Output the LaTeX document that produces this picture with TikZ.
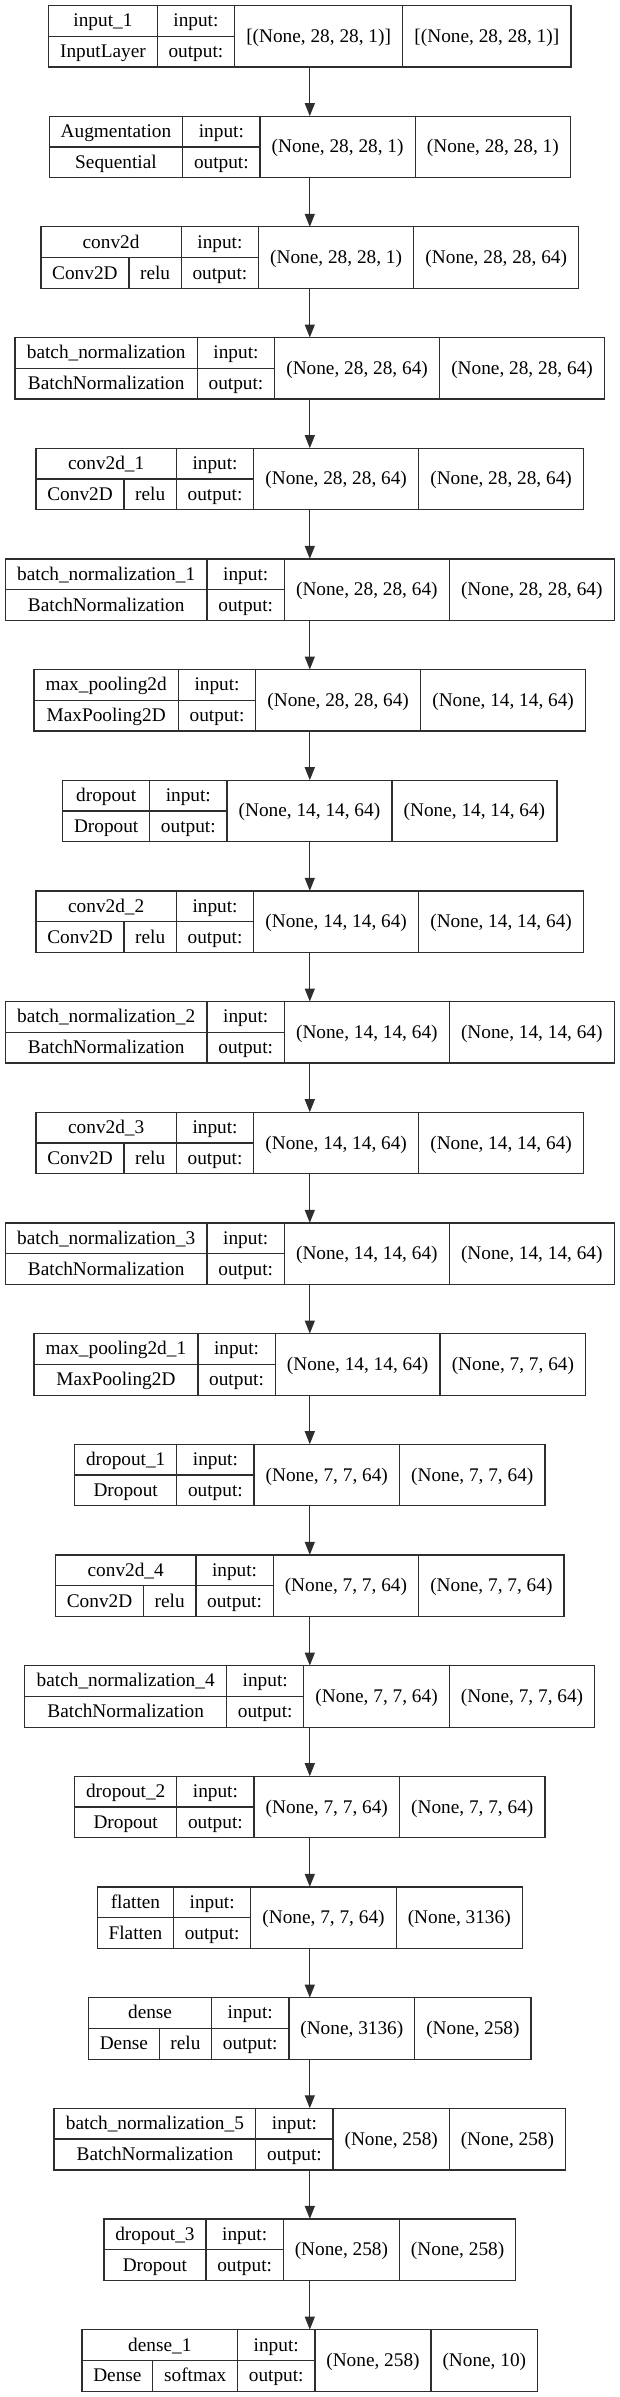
\documentclass[tikz,border=0pt]{standalone}
\usepackage{fontspec}
\setmainfont{Liberation Serif}
\usetikzlibrary{arrows.meta}
\newlength\wN \newlength\wC \newlength\wA \newlength\wL \newlength\wI \newlength\wO \newlength\wT \newlength\wX
\newcommand\measfont{\fontsize{19.5pt}{23pt}\selectfont}
\newcommand\layfont{\fontsize{19.3pt}{23pt}\selectfont}
\newlength\padw \setlength\padw{22pt}
\newsavebox\measbox
\newcommand\measw[2]{%
  \pgfinterruptpicture\sbox\measbox{\measfont #2}\global#1=\wd\measbox\relax\endpgfinterruptpicture
  \global\advance#1 by\padw}
\colorlet{ln}{black!82}
\tikzset{
  frame/.style={draw=ln, line width=1.3pt, inner sep=0pt, outer sep=0pt, minimum height=61.6pt},
  sepline/.style={draw=ln, line width=1.3pt},
  lbl/.style={inner sep=0pt, font=\layfont, anchor=base, text=black},
  link/.style={draw=ln, line width=1.3pt, -{Triangle[length=13pt,width=10pt]}}
}
% #1 id, #2 index, #3 name, #4 class, #5 activation, #6 input shape, #7 output shape
\newcommand\layerbox[7]{%
  \measw\wN{#3}%
  \measw\wC{#4}%
  \if\relax\detokenize{#5}\relax\global\wA=0pt\else\measw\wA{#5}\fi
  \global\wX=\wC\global\advance\wX by\wA
  \ifdim\wN>\wX
    \global\wT=\wN\global\advance\wT by-\wX
    \ifdim\wA>0pt\global\divide\wT by 2\global\advance\wC by\wT\global\advance\wA by\wT\else\global\advance\wC by\wT\fi
  \else\global\wN=\wX\fi
  \measw\wL{output:}%
  \measw\wI{#6}%
  \measw\wO{#7}%
  \global\wT=\wN\global\advance\wT by\wL\global\advance\wT by\wI\global\advance\wT by\wO
  \pgfmathsetmacro\yT{5.5+110.67*#2}%
  \pgfmathsetmacro\yM{\yT+30.8}%
  \pgfmathsetmacro\yB{\yT+61.6}%
  \pgfmathsetmacro\xA{309.8-0.5*\wT}%
  \pgfmathsetmacro\xB{\xA+\wN}%
  \pgfmathsetmacro\xC{\xA+\wC}%
  \pgfmathsetmacro\xD{\xB+\wL}%
  \pgfmathsetmacro\xE{\xD+\wI}%
  \pgfmathsetmacro\xF{\xA+\wT}%
  \node[frame, minimum width=\wT] (#1) at (309.8,\yM) {};
  \draw[sepline] (\xB,\yT) -- (\xB,\yB);
  \draw[sepline] (\xD,\yT) -- (\xD,\yB);
  \draw[sepline] (\xE,\yT) -- (\xE,\yB);
  \draw[sepline] (\xA,\yM) -- (\xD,\yM);
  \node[lbl] (#1-name) at ({(\xA+\xB)/2},{\yT+21.4}) {#3};
  \ifdim\wA>0pt
    \draw[sepline] (\xC,\yM) -- (\xC,\yB);
    \node[lbl] (#1-class) at ({(\xA+\xC)/2},{\yM+21.4}) {#4};
    \node[lbl] (#1-act) at ({(\xC+\xB)/2},{\yM+21.4}) {#5};
  \else
    \node[lbl] (#1-class) at ({(\xA+\xB)/2},{\yM+21.4}) {#4};
  \fi
  \node[lbl] (#1-inl) at ({(\xB+\xD)/2},{\yT+21.4}) {input:};
  \node[lbl] (#1-outl) at ({(\xB+\xD)/2},{\yM+21.4}) {output:};
  \node[lbl] (#1-ins) at ({(\xD+\xE)/2},{\yM+6}) {#6};
  \node[lbl] (#1-outs) at ({(\xE+\xF)/2},{\yM+6}) {#7};
}
\begin{document}
\begin{tikzpicture}[x=1pt,y=-1pt]
\fill[white] (0,0) rectangle (620,2397);
\useasboundingbox (0,0) rectangle (620,2397);
\layerbox{l0}{0}{input\_1}{InputLayer}{}{[(None, 28, 28, 1)]}{[(None, 28, 28, 1)]}
\layerbox{l1}{1}{Augmentation}{Sequential}{}{(None, 28, 28, 1)}{(None, 28, 28, 1)}
\layerbox{l2}{2}{conv2d}{Conv2D}{relu}{(None, 28, 28, 1)}{(None, 28, 28, 64)}
\layerbox{l3}{3}{batch\_normalization}{BatchNormalization}{}{(None, 28, 28, 64)}{(None, 28, 28, 64)}
\layerbox{l4}{4}{conv2d\_1}{Conv2D}{relu}{(None, 28, 28, 64)}{(None, 28, 28, 64)}
\layerbox{l5}{5}{batch\_normalization\_1}{BatchNormalization}{}{(None, 28, 28, 64)}{(None, 28, 28, 64)}
\layerbox{l6}{6}{max\_pooling2d}{MaxPooling2D}{}{(None, 28, 28, 64)}{(None, 14, 14, 64)}
\layerbox{l7}{7}{dropout}{Dropout}{}{(None, 14, 14, 64)}{(None, 14, 14, 64)}
\layerbox{l8}{8}{conv2d\_2}{Conv2D}{relu}{(None, 14, 14, 64)}{(None, 14, 14, 64)}
\layerbox{l9}{9}{batch\_normalization\_2}{BatchNormalization}{}{(None, 14, 14, 64)}{(None, 14, 14, 64)}
\layerbox{l10}{10}{conv2d\_3}{Conv2D}{relu}{(None, 14, 14, 64)}{(None, 14, 14, 64)}
\layerbox{l11}{11}{batch\_normalization\_3}{BatchNormalization}{}{(None, 14, 14, 64)}{(None, 14, 14, 64)}
\layerbox{l12}{12}{max\_pooling2d\_1}{MaxPooling2D}{}{(None, 14, 14, 64)}{(None, 7, 7, 64)}
\layerbox{l13}{13}{dropout\_1}{Dropout}{}{(None, 7, 7, 64)}{(None, 7, 7, 64)}
\layerbox{l14}{14}{conv2d\_4}{Conv2D}{relu}{(None, 7, 7, 64)}{(None, 7, 7, 64)}
\layerbox{l15}{15}{batch\_normalization\_4}{BatchNormalization}{}{(None, 7, 7, 64)}{(None, 7, 7, 64)}
\layerbox{l16}{16}{dropout\_2}{Dropout}{}{(None, 7, 7, 64)}{(None, 7, 7, 64)}
\layerbox{l17}{17}{flatten}{Flatten}{}{(None, 7, 7, 64)}{(None, 3136)}
\layerbox{l18}{18}{dense}{Dense}{relu}{(None, 3136)}{(None, 258)}
\layerbox{l19}{19}{batch\_normalization\_5}{BatchNormalization}{}{(None, 258)}{(None, 258)}
\layerbox{l20}{20}{dropout\_3}{Dropout}{}{(None, 258)}{(None, 258)}
\layerbox{l21}{21}{dense\_1}{Dense}{softmax}{(None, 258)}{(None, 10)}
\foreach \a/\b in {l0/l1,l1/l2,l2/l3,l3/l4,l4/l5,l5/l6,l6/l7,l7/l8,l8/l9,l9/l10,l10/l11,l11/l12,l12/l13,l13/l14,l14/l15,l15/l16,l16/l17,l17/l18,l18/l19,l19/l20,l20/l21}
  \draw[link] (\a.south) -- (\b.north);
\end{tikzpicture}
\end{document}
